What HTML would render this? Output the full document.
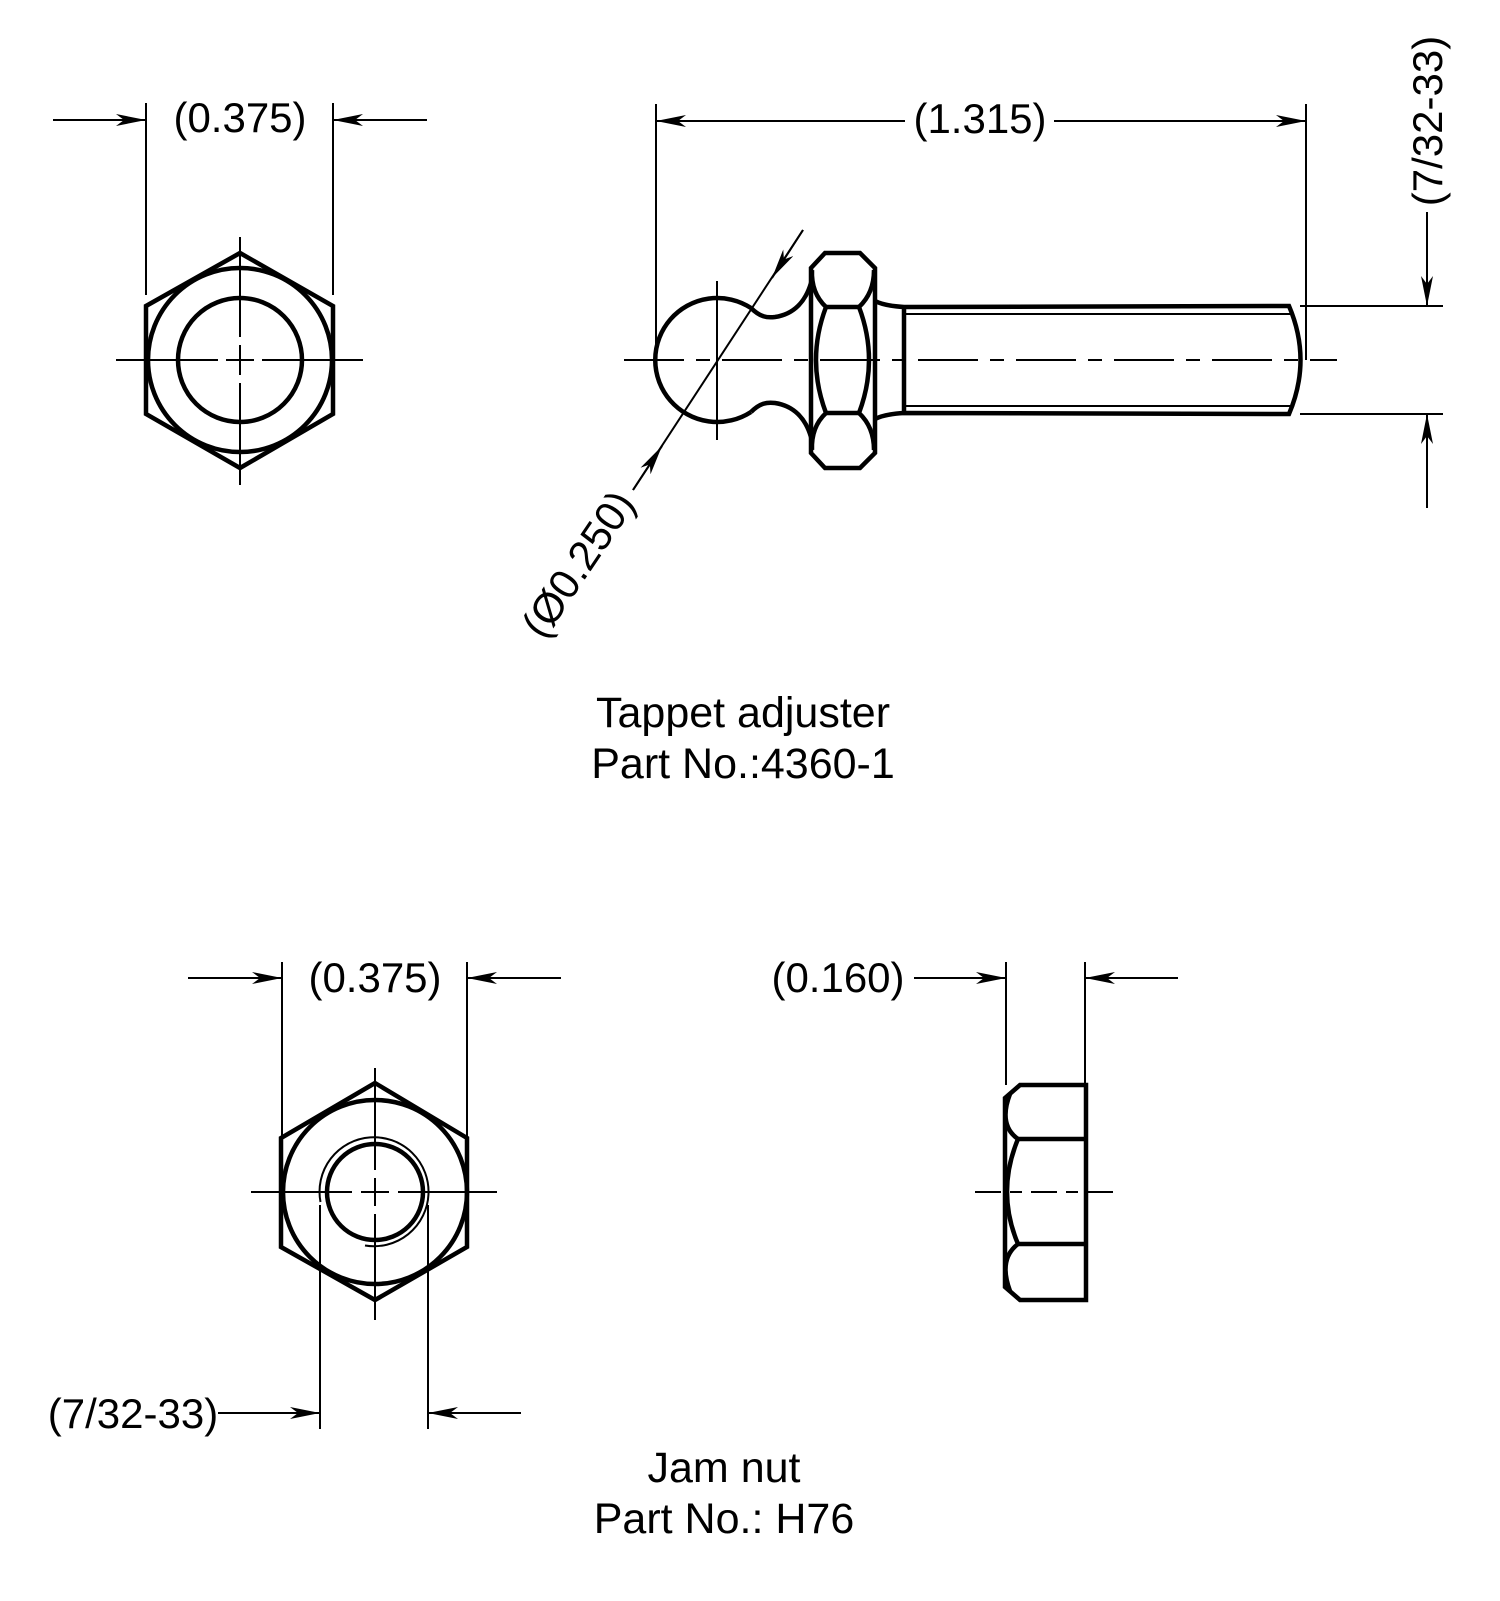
<!DOCTYPE html>
<html><head><meta charset="utf-8"><style>
html,body{margin:0;padding:0;background:#fff}
svg{display:block}
text{font-family:"Liberation Sans",Arial,sans-serif;font-size:42px;fill:#000}
</style></head><body>
<svg width="1500" height="1601" viewBox="0 0 1500 1601" xmlns="http://www.w3.org/2000/svg">
<defs>
<marker id="a" viewBox="0 0 30 12" refX="30" refY="6" markerWidth="30" markerHeight="12" markerUnits="userSpaceOnUse" orient="auto">
<path d="M0,0 L30,6 L0,12 L8,6 Z" fill="#000"/>
</marker>
</defs>
<g fill="none" stroke="#000">
<!-- ===== Top-left hex ===== -->
<g stroke-width="4.5">
<polygon points="240,253 333,306 333,414 240,468 146,414 146,306"/>
<circle cx="240" cy="360" r="92"/>
<circle cx="240" cy="360" r="62"/>
</g>
<g stroke-width="2">
<line x1="116" y1="360" x2="218" y2="360"/><line x1="226" y1="360" x2="254" y2="360"/><line x1="262" y1="360" x2="363" y2="360"/>
<line x1="240" y1="237" x2="240" y2="337"/><line x1="240" y1="345" x2="240" y2="375"/><line x1="240" y1="383" x2="240" y2="485"/>
<line x1="146" y1="103" x2="146" y2="295"/><line x1="333" y1="103" x2="333" y2="295"/>
<line x1="53" y1="120" x2="146" y2="120" marker-end="url(#a)"/>
<line x1="427" y1="120" x2="333" y2="120" marker-end="url(#a)"/>
</g>

<!-- ===== Tappet adjuster side ===== -->
<g stroke-width="4.5">
<path d="M751,308 A62,62 0 1 0 751,412"/>
<path d="M751,308 C760,317 767,318 775,317 C795,314 806,300 811,283"/>
<path d="M751,412 C760,403 767,402 775,403 C795,406 806,420 811,437"/>
<polygon points="825,253 860,253 875,268 875,453 860,468 825,468 811,453 811,268"/>
<line x1="826" y1="307" x2="859" y2="307"/>
<line x1="826" y1="413" x2="859" y2="413"/>
<path d="M826,307 Q811,293 812,270"/>
<path d="M859,307 Q874,293 874,270"/>
<path d="M826,413 Q811,427 812,450"/>
<path d="M859,413 Q874,427 874,450"/>
<path d="M826,307 Q806,360 826,413"/>
<path d="M859,307 Q879,360 859,413"/>
<path d="M875,301 Q885,306 904,307 L1289,306 Q1312,360 1289,414 L904,413 Q885,414 875,419"/>
<line x1="904" y1="307" x2="904" y2="413"/>
</g>
<g stroke-width="2">
<line x1="904" y1="314" x2="1292" y2="314"/>
<line x1="904" y1="406" x2="1292" y2="406"/>
<line x1="624" y1="360" x2="1337" y2="360" stroke-dasharray="60 12 14 12"/>
<line x1="717" y1="281" x2="717" y2="440"/>
<line x1="656" y1="104" x2="656" y2="360"/>
<line x1="1306" y1="104" x2="1306" y2="360"/>
<line x1="905" y1="121" x2="656" y2="121" marker-end="url(#a)"/>
<line x1="1054" y1="121" x2="1306" y2="121" marker-end="url(#a)"/>
<line x1="1300" y1="306" x2="1443" y2="306"/>
<line x1="1300" y1="414" x2="1443" y2="414"/>
<line x1="1427" y1="212" x2="1427" y2="306" marker-end="url(#a)"/>
<line x1="1427" y1="508" x2="1427" y2="414" marker-end="url(#a)"/>
<line x1="803" y1="230" x2="633" y2="490"/>
<line x1="803" y1="230" x2="772" y2="278" marker-end="url(#a)"/>
<line x1="633" y1="490" x2="662" y2="446" marker-end="url(#a)"/>
</g>

<!-- ===== Jam nut front ===== -->
<g stroke-width="4.5">
<polygon points="375,1083 467,1138 467,1247 375,1300 281,1247 281,1138"/>
<circle cx="375" cy="1192" r="92"/>
<circle cx="375" cy="1192" r="48"/>
</g>
<g stroke-width="2">
<path d="M320.5,1202 A54.5,54.5 0 1 1 365,1245.5"/>
<line x1="251" y1="1192" x2="352" y2="1192"/><line x1="361" y1="1192" x2="389" y2="1192"/><line x1="398" y1="1192" x2="497" y2="1192"/>
<line x1="375" y1="1068" x2="375" y2="1170"/><line x1="375" y1="1178" x2="375" y2="1206"/><line x1="375" y1="1214" x2="375" y2="1320"/>
<line x1="282" y1="962" x2="282" y2="1138"/><line x1="467" y1="962" x2="467" y2="1138"/>
<line x1="188" y1="978" x2="282" y2="978" marker-end="url(#a)"/>
<line x1="561" y1="978" x2="467" y2="978" marker-end="url(#a)"/>
<line x1="320" y1="1205" x2="320" y2="1429"/><line x1="428" y1="1205" x2="428" y2="1429"/>
<line x1="218" y1="1413" x2="320" y2="1413" marker-end="url(#a)"/>
<line x1="521" y1="1413" x2="428" y2="1413" marker-end="url(#a)"/>
</g>

<!-- ===== Jam nut side ===== -->
<g stroke-width="4.5">
<polygon points="1020,1085 1086,1085 1086,1300 1020,1300 1005,1287 1005,1098"/>
<line x1="1018" y1="1139" x2="1086" y2="1139"/>
<line x1="1018" y1="1244" x2="1086" y2="1244"/>
<path d="M1010,1094 Q998,1125 1018,1139"/>
<path d="M1018,1139 Q996,1192 1018,1244"/>
<path d="M1018,1244 Q998,1259 1010,1291"/>
</g>
<g stroke-width="2">
<line x1="975" y1="1192" x2="1117" y2="1192" stroke-dasharray="26 9 12 9"/>
<line x1="1006" y1="962" x2="1006" y2="1085"/><line x1="1085" y1="962" x2="1085" y2="1085"/>
<line x1="914" y1="978" x2="1006" y2="978" marker-end="url(#a)"/>
<line x1="1178" y1="978" x2="1085" y2="978" marker-end="url(#a)"/>
</g>
</g>

<!-- ===== Text ===== -->
<text x="240" y="132" text-anchor="middle">(0.375)</text>
<text x="980" y="133" text-anchor="middle">(1.315)</text>
<text transform="translate(1442,121) rotate(-90)" text-anchor="middle">(7/32-33)</text>
<text transform="translate(590,572) rotate(-56)" text-anchor="middle">(Ø0.250)</text>
<text x="743" y="727" text-anchor="middle" style="font-size:43px">Tappet adjuster</text>
<text x="743" y="778" text-anchor="middle" style="font-size:43px">Part No.:4360-1</text>
<text x="375" y="992" text-anchor="middle">(0.375)</text>
<text x="838" y="992" text-anchor="middle">(0.160)</text>
<text x="133" y="1428" text-anchor="middle">(7/32-33)</text>
<text x="724" y="1482" text-anchor="middle" style="font-size:43px">Jam nut</text>
<text x="724" y="1533" text-anchor="middle" style="font-size:43px">Part No.: H76</text>
</svg>
</body></html>
